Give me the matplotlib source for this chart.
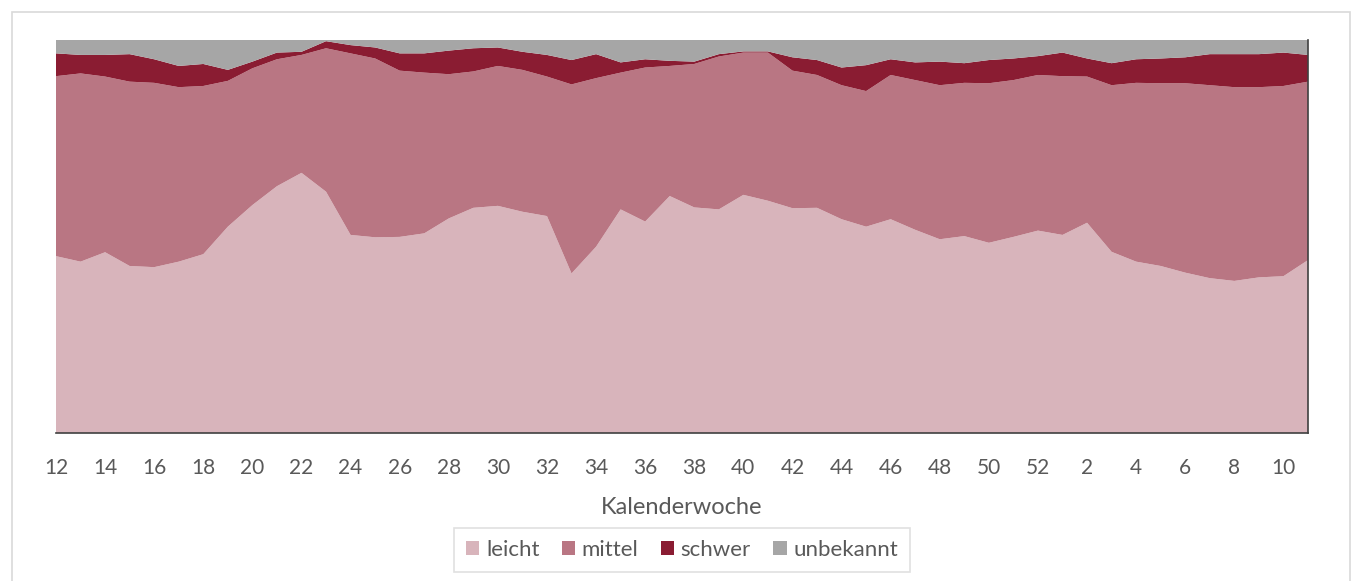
import matplotlib
matplotlib.use("Agg")
import matplotlib.pyplot as plt
from matplotlib.patches import Rectangle
import numpy as np

# Kalenderwochen (KW 12 bis KW 11 des Folgejahres)
wochen = [12, 13, 14, 15, 16, 17, 18, 19, 20, 21, 22, 23, 24, 25, 26, 27, 28, 29, 30,
          31, 32, 33, 34, 35, 36, 37, 38, 39, 40, 41, 42, 43, 44, 45, 46, 47, 48, 49,
          50, 51, 52, 1, 2, 3, 4, 5, 6, 7, 8, 9, 10, 11]

# Anteile in Prozent
leicht = [45.0, 43.6, 46.0, 42.5, 42.2, 43.6, 45.5, 52.5, 58.0, 62.8, 66.2, 61.4, 50.4,
          49.8, 49.9, 50.8, 54.6, 57.3, 57.8, 56.3, 55.2, 40.6, 47.4, 56.9, 53.8, 60.3,
          57.4, 56.9, 60.6, 59.1, 57.2, 57.3, 54.4, 52.5, 54.4, 51.7, 49.3, 50.1, 48.4,
          49.9, 51.5, 50.4, 53.5, 46.1, 43.6, 42.5, 40.8, 39.4, 38.7, 39.6, 39.9, 44.0]
mittel = [45.8, 47.9, 44.7, 46.9, 46.9, 44.4, 42.8, 37.1, 34.8, 32.3, 30.0, 36.5, 46.2,
          45.5, 42.3, 40.9, 36.7, 34.7, 35.6, 36.1, 35.5, 48.1, 42.9, 34.8, 39.2, 33.1,
          36.5, 38.9, 36.2, 37.7, 35.0, 33.8, 34.1, 34.5, 36.7, 38.1, 39.2, 39.0, 40.6,
          39.9, 39.6, 40.4, 37.2, 42.4, 45.5, 46.5, 48.2, 49.1, 49.3, 48.4, 48.4, 45.4]
schwer = [5.8, 4.7, 5.5, 7.0, 6.0, 5.4, 5.6, 2.8, 1.7, 1.7, 0.8, 1.8, 2.1,
          2.8, 4.4, 4.9, 6.0, 5.9, 4.7, 4.6, 5.5, 6.2, 6.1, 2.6, 2.1, 1.3,
          0.6, 0.6, 0.3, 0.3, 3.4, 3.8, 4.5, 6.6, 4.0, 4.5, 6.0, 5.0, 5.9,
          5.5, 4.8, 6.0, 4.6, 5.6, 6.0, 6.3, 6.6, 7.9, 8.4, 8.4, 8.5, 6.8]
unbekannt = [3.4, 3.8, 3.8, 3.6, 4.9, 6.6, 6.1, 7.6, 5.5, 3.2, 3.0, 0.3, 1.3,
             1.9, 3.4, 3.4, 2.7, 2.1, 1.9, 3.0, 3.8, 5.1, 3.6, 5.7, 4.9, 5.3,
             5.5, 3.6, 2.9, 2.9, 4.4, 5.1, 7.0, 6.4, 4.9, 5.7, 5.5, 5.9, 5.1,
             4.7, 4.1, 3.2, 4.7, 5.9, 4.9, 4.7, 4.4, 3.6, 3.6, 3.6, 3.2, 3.8]

namen = ["leicht", "mittel", "schwer", "unbekannt"]
farben = ["#D8B4BB", "#B97683", "#8A1C32", "#A6A6A6"]

plt.rcParams["font.family"] = ["Lato", "DejaVu Sans"]
textfarbe = "#595959"

werte = np.array([leicht, mittel, schwer, unbekannt], dtype=float)
werte = werte / werte.sum(axis=0) * 100  # 100%-gestapelt
x = np.arange(len(wochen))

fig = plt.figure(figsize=(13.62, 5.81), dpi=100)
fig.patches.append(Rectangle((12 / 1362, -0.01), 1338 / 1362, 1 - 12 / 581 + 0.01,
                             transform=fig.transFigure, fill=False,
                             edgecolor="#D9D9D9", linewidth=1.2))

ax = fig.add_axes([56 / 1362, 1 - 433 / 581, 1252 / 1362, 393 / 581])
polys = ax.stackplot(x, werte, colors=farben, labels=namen, linewidth=0)

ax.set_xlim(x[0], x[-1])
ax.set_ylim(0, 100)
ax.set_yticks([])
ax.set_xticks(x[::2])
ax.set_xticklabels([str(w) for w in wochen[::2]], fontsize=15, color=textfarbe)
ax.tick_params(axis="x", length=0, pad=18)
for s in ["left", "top"]:
    ax.spines[s].set_visible(False)
for s in ["bottom", "right"]:
    ax.spines[s].set_color("#404040")
    ax.spines[s].set_linewidth(1.2)

ax.set_xlabel("Kalenderwoche", fontsize=17, color=textfarbe, labelpad=14)

leg = fig.legend(handles=polys, labels=namen, loc="center", bbox_to_anchor=(682 / 1362, 1 - 550 / 581),
                 ncol=4, frameon=True, fontsize=16, handlelength=0.6, handleheight=0.6,
                 handletextpad=0.3, columnspacing=1.0, borderpad=0.55, fancybox=False)
leg.get_frame().set_edgecolor("#D9D9D9")
leg.get_frame().set_linewidth(1.2)
for t in leg.get_texts():
    t.set_color(textfarbe)

fig.savefig("out.png", dpi=100)
